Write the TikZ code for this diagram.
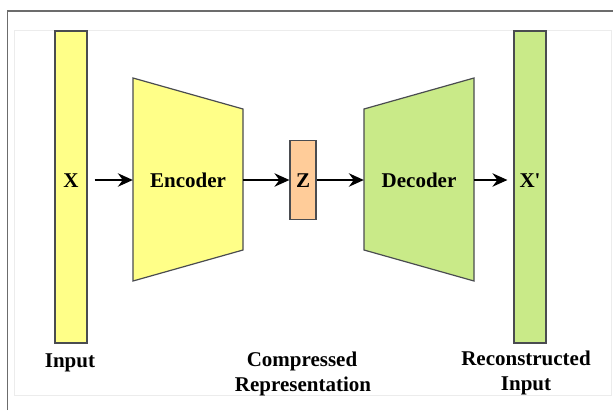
\documentclass[tikz,border=0pt]{standalone}
\usepackage{fontspec}
\setmainfont{Liberation Serif}[Ligatures=TeXOff]
\usetikzlibrary{arrows.meta}

\definecolor{inyellow}{HTML}{FFFF88}
\definecolor{outgreen}{HTML}{C9EA88}
\definecolor{codeorange}{HTML}{FFCC99}
\definecolor{edgegray}{HTML}{4A4C50}

\tikzset{
  lbl/.style={font=\fontsize{21}{25}\selectfont\bfseries, inner sep=0pt, anchor=base},
  bar/.style={draw=edgegray, line width=1.2pt, inner sep=0pt},
  blockshape/.style={draw=edgegray, line width=1.2pt, line join=miter},
  flow/.style={line width=1.4pt, -{Stealth[length=15pt,width=13.5pt,inset=5pt]}},
  ghost/.style={inner sep=0pt, draw=none}
}

\begin{document}
\begin{tikzpicture}[x=1pt, y=-1pt]
\useasboundingbox (0,0) rectangle (613,410);

% window edges
\draw[gray!85!black, line width=1.2pt] (7.5,410) -- (7.5,11) -- (613,11);
\draw[gray!15, line width=0.8pt] (14,30) rectangle (611,395);

% data vectors
\node[bar, fill=inyellow, minimum width=32pt, minimum height=312pt] (xin) at (71,187) {};
\node[bar, fill=codeorange, minimum width=26pt, minimum height=79pt] (zc) at (303,180) {};
\node[bar, fill=outgreen, minimum width=32pt, minimum height=312pt] (xout) at (530,187) {};

% encoder and decoder trapezoids
\draw[blockshape, fill=inyellow] (133,78) -- (243,109) -- (243,250) -- (133,281) -- cycle;
\draw[blockshape, fill=outgreen] (364,109) -- (474,78) -- (474,281) -- (364,250) -- cycle;
\node[ghost, minimum width=110pt, minimum height=203pt] (enc) at (188,180) {};
\node[ghost, minimum width=110pt, minimum height=203pt] (dec) at (419,180) {};

% inner labels
\node[lbl] (xt) at (71,187) {X};
\node[lbl] (enct) at (188,187) {Encoder};
\node[lbl] (zt) at (303,187) {Z};
\node[lbl] (dect) at (419,187) {Decoder};
\node[lbl] (xpt) at (530,187) {X'};

% captions
\node[lbl] (cin) at (70,367) {Input};
\node[lbl] (ccomp1) at (302,366) {Compressed};
\node[lbl] (ccomp2) at (303,391) {Representation};
\node[lbl] (crec1) at (526,365) {Reconstructed};
\node[lbl] (crec2) at (526,390) {Input};

% data flow
\draw[flow] ([xshift=7pt]xin.east |- enc.west) -- (enc.west);
\draw[flow] (enc.east) -- (zc.west);
\draw[flow] (zc.east) -- (dec.west);
\draw[flow] (dec.east) -- ([xshift=-6pt]xout.west |- dec.east);
\end{tikzpicture}
\end{document}
